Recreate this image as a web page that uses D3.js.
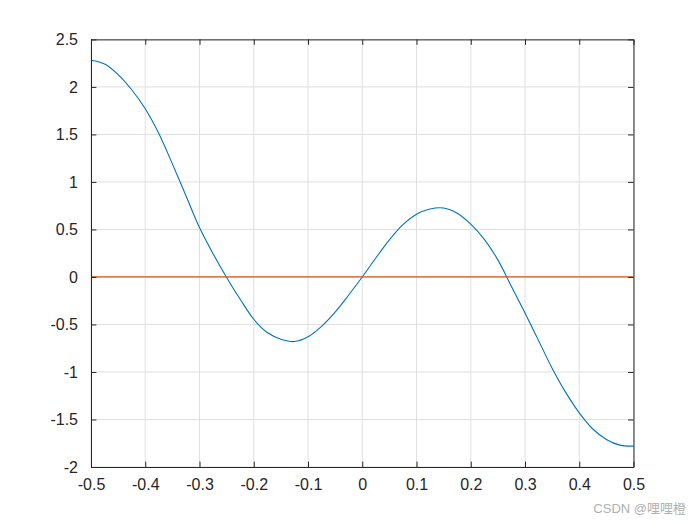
<!DOCTYPE html>
<html><head><meta charset="utf-8">
<script src="https://cdn.jsdelivr.net/npm/d3@7"></script>
<style>body{margin:0;background:#fff}svg text{font-family:Arial,"Liberation Sans",sans-serif}</style>
</head><body>
<svg id="c" width="700" height="525"></svg>
<script>
const xs = [-0.5,-0.475,-0.45,-0.425,-0.4,-0.375,-0.35,-0.325,-0.3,-0.275,-0.25,-0.225,-0.2,-0.175,-0.15,-0.125,-0.1,-0.075,-0.05,-0.025,0,0.025,0.05,0.075,0.1,0.125,0.15,0.175,0.2,0.225,0.25,0.275,0.3,0.325,0.35,0.375,0.4,0.425,0.45,0.475,0.5];
const ys = [2.28,2.24,2.13,1.97,1.77,1.51,1.19,0.855,0.52,0.245,-0.005,-0.235,-0.445,-0.585,-0.655,-0.68,-0.63,-0.52,-0.37,-0.19,0,0.20,0.39,0.55,0.66,0.715,0.725,0.67,0.555,0.395,0.18,-0.10,-0.38,-0.67,-0.96,-1.215,-1.43,-1.60,-1.71,-1.77,-1.78];
const zeroX = [-0.5, 0.5];
const zeroY = [0, 0];
const xTicks = [-0.5,-0.4,-0.3,-0.2,-0.1,0,0.1,0.2,0.3,0.4,0.5];
const yTicks = [-2,-1.5,-1,-0.5,0,0.5,1,1.5,2,2.5];

const svg = d3.select('#c');
const L=91, R=633.5, T=39.4, B=467;
const x = d3.scaleLinear().domain([-0.5,0.5]).range([L,R]);
const y = d3.scaleLinear().domain([-2,2.5]).range([B,T]);

const g = svg.append('g');
g.selectAll('.gx').data(xTicks).enter().append('line')
  .attr('x1',d=>x(d)).attr('x2',d=>x(d)).attr('y1',T).attr('y2',B)
  .attr('stroke','#dfdfdf').attr('stroke-width',1);
g.selectAll('.gy').data(yTicks).enter().append('line')
  .attr('y1',d=>y(d)).attr('y2',d=>y(d)).attr('x1',L).attr('x2',R)
  .attr('stroke','#dfdfdf').attr('stroke-width',1);

const line = d3.line().x(d=>x(d[0])).y(d=>y(d[1])).curve(d3.curveCatmullRom.alpha(0.5));
g.append('path').datum(xs.map((v,i)=>[v,ys[i]])).attr('d',line)
  .attr('fill','none').attr('stroke','#0072BD').attr('stroke-width',1.1);
g.append('path').datum(zeroX.map((v,i)=>[v,zeroY[i]])).attr('d',d3.line().x(d=>x(d[0])).y(d=>y(d[1])))
  .attr('fill','none').attr('stroke','#D95319').attr('stroke-width',1.3);

const col='#262626';
const ax = d3.axisBottom(x).tickValues(xTicks).tickSizeInner(-5.4).tickSizeOuter(0).tickPadding(12).tickFormat(d=>d===0?'0':String(d));
const axT = d3.axisTop(x).tickValues(xTicks).tickSizeInner(-5.4).tickSizeOuter(0).tickFormat('');
const ay = d3.axisLeft(y).tickValues(yTicks).tickSizeInner(-5.4).tickSizeOuter(0).tickPadding(13).tickFormat(d=>d===0?'0':String(d));
const ayR = d3.axisRight(y).tickValues(yTicks).tickSizeInner(-5.4).tickSizeOuter(0).tickFormat('');
function style(sel){
  sel.select('.domain').attr('stroke',col).attr('stroke-width',1);
  sel.selectAll('.tick line').attr('stroke',col);
  sel.selectAll('.tick text').attr('fill',col).attr('font-size',16);
}
svg.append('g').attr('transform',`translate(0,${B})`).call(ax).call(style);
svg.append('g').attr('transform',`translate(0,${T})`).call(axT).call(style);
svg.append('g').attr('transform',`translate(${L},0)`).call(ay).call(style);
svg.append('g').attr('transform',`translate(${R},0)`).call(ayR).call(style);
svg.selectAll('.domain').attr('fill','none');

svg.append('text').attr('x',686).attr('y',513).attr('text-anchor','end')
  .attr('font-size',13).attr('fill','#b0b0b0')
  .style('font-family','Arial,"Noto Sans CJK SC",sans-serif').text('CSDN @哩哩橙');
</script>
</body></html>
